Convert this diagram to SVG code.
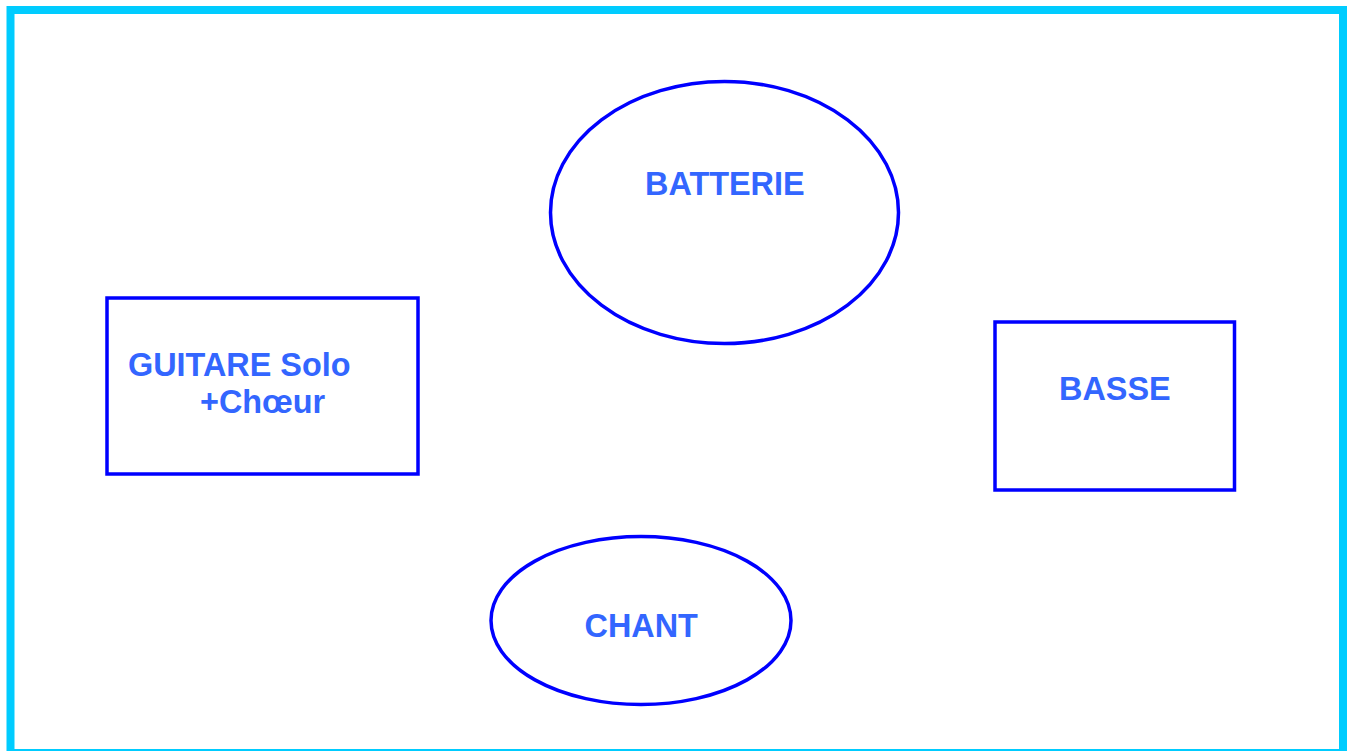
<svg xmlns="http://www.w3.org/2000/svg" width="1351" height="751" viewBox="0 0 1351 751">
<style>
.shape{fill:#FFFFFF;stroke:#0000FF;stroke-width:3.5}
.lbl{font-family:"Liberation Sans",Arial,sans-serif;font-weight:bold;font-size:32.4px;fill:#3366FF}
</style>
<rect x="0" y="0" width="1351" height="751" fill="#FFFFFF"/>
<rect id="frame" x="10.5" y="10" width="1332.5" height="743" fill="none" stroke="#00CCFF" stroke-width="8"/>
<g id="connectors"></g>
<g id="batterie">
<ellipse class="shape" cx="724.5" cy="212.5" rx="174" ry="131"/>
<text class="lbl" x="645" y="194.5">BATTERIE</text>
</g>
<g id="guitare">
<rect class="shape" x="107" y="298" width="311" height="176"/>
<text class="lbl" x="128" y="375.5">GUITARE Solo</text>
<text class="lbl" x="200" y="413">+Chœur</text>
</g>
<g id="basse">
<rect class="shape" x="995" y="322" width="239.5" height="168"/>
<text class="lbl" x="1059" y="399.5">BASSE</text>
</g>
<g id="chant">
<ellipse class="shape" cx="641" cy="620.5" rx="150" ry="84"/>
<text class="lbl" x="584.5" y="637">CHANT</text>
</g>
</svg>
